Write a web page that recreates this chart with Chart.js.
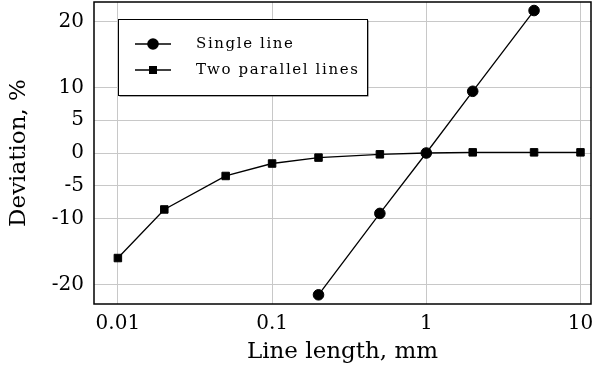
<!DOCTYPE html>
<html><head><meta charset="utf-8">
<script src="https://cdn.jsdelivr.net/npm/chart.js@4.4.1/dist/chart.umd.min.js"></script>
<style>html,body{margin:0;padding:0;background:#fff}#wrap{width:593px;height:373px}</style>
</head><body><div id="wrap"><canvas id="c" width="593" height="373"></canvas></div>
<script>
const singleX = [0.2, 0.5, 1, 2, 5];
const singleY = [-21.6, -9.2, 0, 9.4, 21.7];
const parallelX = [0.01, 0.02, 0.05, 0.1, 0.2, 0.5, 1, 2, 5, 10];
const parallelY = [-16.0, -8.6, -3.5, -1.6, -0.7, -0.2, 0, 0.1, 0.1, 0.1];
const seriesLabels = ['Single line', 'Two parallel lines'];
const xTicks = [0.01, 0.1, 1, 10];
const yTicks = [-20, -10, -5, 0, 5, 10, 20];
const xTitle = 'Line length, mm';
const yTitle = 'Deviation, %';

const FONT = "'DejaVu Serif', 'Liberation Serif', serif";

const framePlugin = {
  id: 'frame',
  afterDraw(chart) {
    const {ctx, chartArea: a} = chart;
    ctx.save();
    ctx.strokeStyle = '#000';
    ctx.lineWidth = 1.5;
    ctx.strokeRect(a.left, a.top, a.right - a.left, a.bottom - a.top);
    // inner legend
    const bx = a.left + 24, by = a.top + 17, bw = 249, bh = 76;
    ctx.fillStyle = '#555';
    ctx.fillRect(bx + 1.5, by + 1.5, bw, bh);
    ctx.fillStyle = '#fff';
    ctx.fillRect(bx, by, bw, bh);
    ctx.lineWidth = 1;
    ctx.strokeStyle = '#000';
    ctx.strokeRect(bx + 0.5, by + 0.5, bw, bh);
    chart.data.datasets.forEach((ds, i) => {
      const y = by + 25 + i * 26;
      const x0 = bx + 17, x1 = bx + 53, xm = bx + 35;
      ctx.beginPath();
      ctx.moveTo(x0, y); ctx.lineTo(x1, y);
      ctx.lineWidth = 1.3; ctx.strokeStyle = '#000'; ctx.stroke();
      ctx.fillStyle = '#000';
      if (ds.pointStyle === 'circle') {
        ctx.beginPath(); ctx.arc(xm, y, 5.8, 0, Math.PI * 2); ctx.fill();
      } else {
        ctx.fillRect(xm - 4, y - 4, 8, 8);
      }
      ctx.font = '15px ' + FONT;
      ctx.letterSpacing = '1.6px';
      ctx.textBaseline = 'middle';
      ctx.textAlign = 'left';
      ctx.fillText(ds.label, bx + 78, y);
      ctx.letterSpacing = '0px';
    });
    ctx.restore();
  }
};

new Chart(document.getElementById('c'), {
  type: 'line',
  data: {
    datasets: [
      {
        label: seriesLabels[0],
        data: singleX.map((x, i) => ({x, y: singleY[i]})),
        borderColor: '#000', backgroundColor: '#000', borderWidth: 1.3,
        pointStyle: 'circle', pointRadius: 5.3, pointBorderWidth: 1, tension: 0
      },
      {
        label: seriesLabels[1],
        data: parallelX.map((x, i) => ({x, y: parallelY[i]})),
        borderColor: '#000', backgroundColor: '#000', borderWidth: 1.3,
        pointStyle: 'rect', pointRadius: 5.3, pointBorderWidth: 1, tension: 0
      }
    ]
  },
  options: {
    responsive: false,
    animation: false,
    devicePixelRatio: 1,
    layout: {autoPadding: false, padding: {top: 2, right: 2, left: 0, bottom: 0}},
    plugins: {legend: {display: false}, tooltip: {enabled: false}},
    scales: {
      x: {
        type: 'logarithmic',
        min: 0.007, max: 11.7,
        afterBuildTicks: s => { s.ticks = xTicks.map(v => ({value: v})); },
        afterFit: s => { s.height = 69; s.paddingLeft = 0; s.paddingRight = 0; },
        grid: {color: '#c8c8c8', lineWidth: 1, drawTicks: false},
        border: {display: false},
        ticks: {
          color: '#000', padding: 8, maxRotation: 0, autoSkip: false,
          font: {family: FONT, size: 20},
          callback: v => String(v)
        },
        title: {display: true, text: xTitle, color: '#000', font: {family: FONT, size: 23}, padding: {top: 0, bottom: 7}}
      },
      y: {
        type: 'linear',
        min: -23, max: 23,
        afterBuildTicks: s => { s.ticks = yTicks.map(v => ({value: v})); },
        afterFit: s => { s.width = 94; s.paddingTop = 0; s.paddingBottom = 0; },
        grid: {color: '#c8c8c8', lineWidth: 1, drawTicks: false},
        border: {display: false},
        ticks: {
          color: '#000', padding: 10, autoSkip: false,
          font: {family: FONT, size: 20},
          callback: v => String(v)
        },
        title: {display: true, text: yTitle, color: '#000', font: {family: FONT, size: 23}, padding: {top: 5, bottom: 0}}
      }
    }
  },
  plugins: [framePlugin]
});
</script>
</body></html>
